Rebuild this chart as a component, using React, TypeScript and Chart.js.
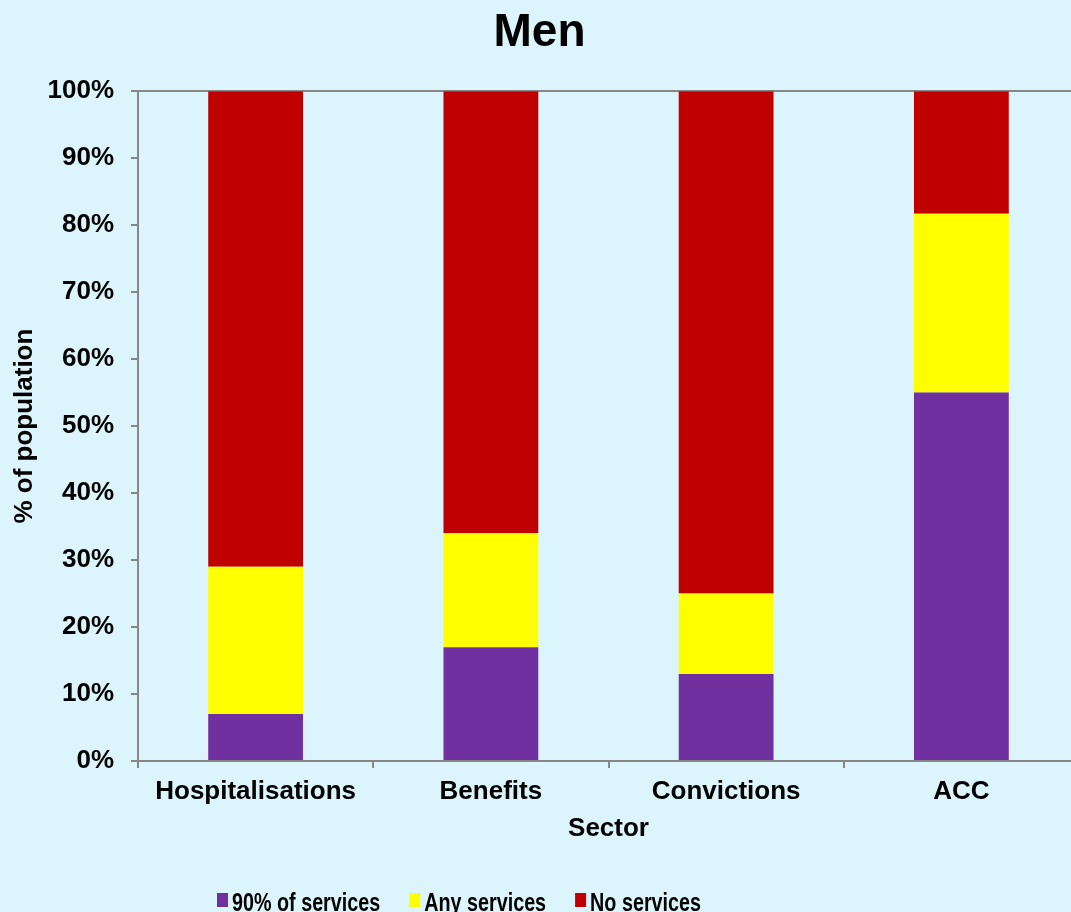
import React, { useEffect, useRef } from "react";
import { Chart, registerables, Plugin } from "chart.js";

Chart.register(...registerables);

// Share of men (%) in each sector, split by service use
const sectors = ["Hospitalisations", "Benefits", "Convictions", "ACC"];
const seriesNames = ["90% of services", "Any services", "No services"];
const ninetyPct = [7, 17, 13, 55];
const anyServices = [22, 17, 12, 26.7];
const noServices = [71, 66, 75, 18.3];
const yTicks = [0, 10, 20, 30, 40, 50, 60, 70, 80, 90, 100];

const PURPLE = "#7030A0";
const YELLOW = "#FFFF00";
const RED = "#C00000";
const BG = "#DCF5FC";
const AXIS = "#878787";
const FONT = "'Liberation Sans', Arial, sans-serif";
const LABEL_FONT = { size: 26, weight: "bold" as const, family: FONT };

// Legend drawn along the bottom with slightly condensed bold text
const bottomLegend: Plugin<"bar"> = {
  id: "bottomLegend",
  afterDraw(chart) {
    const ctx = chart.ctx;
    const squeeze = 0.79;
    const boxW = 11;
    const boxH = 14;
    const boxTop = chart.height - 19;
    const baseline = chart.height - 1;
    let x = 217;
    ctx.save();
    ctx.font = `bold 25px ${FONT}`;
    ctx.textBaseline = "alphabetic";
    ctx.textAlign = "left";
    chart.data.datasets.forEach((ds) => {
      ctx.fillStyle = ds.backgroundColor as string;
      ctx.fillRect(x, boxTop, boxW, boxH);
      x += boxW + 4;
      const label = String(ds.label);
      const w = ctx.measureText(label).width * squeeze;
      ctx.save();
      ctx.translate(x, baseline);
      ctx.scale(squeeze, 1);
      ctx.fillStyle = "#000";
      ctx.fillText(label, 0, 0);
      ctx.restore();
      x += w + 29;
    });
    ctx.restore();
  },
};

export default function App() {
  const canvasRef = useRef<HTMLCanvasElement | null>(null);

  useEffect(() => {
    if (!canvasRef.current) return;
    Chart.defaults.font.family = FONT;
    Chart.defaults.color = "#000";
    const chart = new Chart(canvasRef.current, {
      type: "bar",
      data: {
        labels: sectors,
        datasets: [
          { label: seriesNames[0], data: ninetyPct, backgroundColor: PURPLE },
          { label: seriesNames[1], data: anyServices, backgroundColor: YELLOW },
          { label: seriesNames[2], data: noServices, backgroundColor: RED },
        ].map((d) => ({
          ...d,
          categoryPercentage: 1,
          barPercentage: 0.403,
          borderWidth: 0,
        })),
      },
      options: {
        responsive: false,
        animation: false,
        layout: { padding: { left: 0, right: 11, top: 0, bottom: 64 } },
        plugins: {
          legend: { display: false },
          tooltip: { enabled: false },
          title: {
            display: true,
            text: "Men",
            color: "#000",
            font: { size: 46, weight: "bold", family: FONT },
            padding: { top: 6, bottom: 30 },
          },
        },
        scales: {
          x: {
            stacked: true,
            offset: true,
            afterFit: (scale) => {
              scale.height = 87;
            },
            grid: {
              offset: true,
              drawOnChartArea: false,
              color: AXIS,
              tickColor: AXIS,
              tickLength: 7,
              lineWidth: 2,
            },
            border: { color: AXIS, width: 2 },
            ticks: {
              color: "#000",
              padding: 8,
              maxRotation: 0,
              font: LABEL_FONT,
            },
            title: {
              display: true,
              text: "Sector",
              color: "#000",
              font: LABEL_FONT,
              padding: { top: 8, bottom: 4 },
            },
          },
          y: {
            stacked: true,
            min: 0,
            max: 100,
            afterFit: (scale) => {
              scale.width = 138;
            },
            afterBuildTicks: (scale) => {
              scale.ticks = yTicks.map((v) => ({ value: v }));
            },
            grid: {
              color: (c) => (c.tick && c.tick.value === 100 ? AXIS : "rgba(0,0,0,0)"),
              tickColor: AXIS,
              tickLength: 7,
              lineWidth: 2,
            },
            border: { color: AXIS, width: 2 },
            ticks: {
              color: "#000",
              padding: 17,
              font: LABEL_FONT,
              callback: (v) => `${v}%`,
            },
            title: {
              display: true,
              text: "% of population",
              color: "#000",
              font: LABEL_FONT,
              padding: { top: 9, bottom: 10 },
            },
          },
        },
      },
      plugins: [bottomLegend],
    });
    return () => chart.destroy();
  }, []);

  return (
    <div
      style={{
        position: "fixed",
        left: 0,
        top: 0,
        width: 1071,
        height: 912,
        overflow: "hidden",
        background: BG,
      }}
    >
      <canvas ref={canvasRef} width={1090} height={912} style={{ display: "block" }} />
    </div>
  );
}
